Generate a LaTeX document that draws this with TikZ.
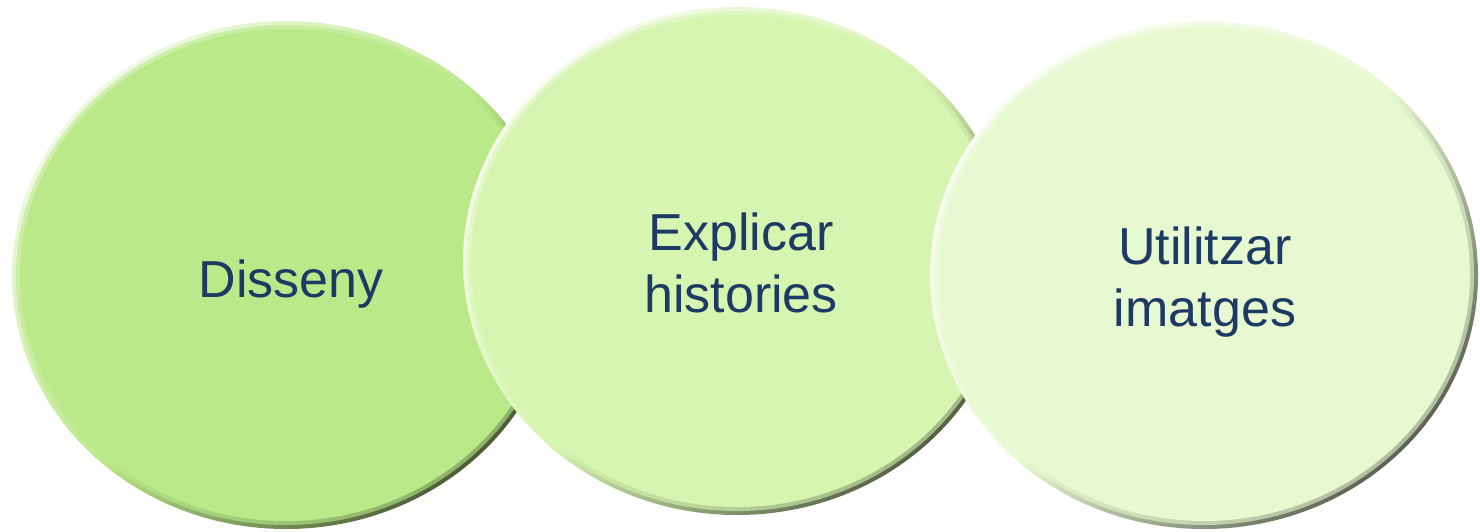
\documentclass[tikz,border=0pt]{standalone}
\usepackage{fontspec}
\setmainfont{Liberation Sans}
\usetikzlibrary{shapes.geometric}
\definecolor{txt}{HTML}{1C3A63}
\definecolor{gA}{HTML}{BBE98A}
\definecolor{gB}{HTML}{D6F5B0}
\definecolor{gC}{HTML}{E7F9D1}
\tikzset{
  bubble/.style={ellipse, minimum width=548pt, minimum height=508pt, inner sep=0pt,
    top color=#1!25!white, bottom color=#1!40!black, middle color=#1, shading angle=45,
    path picture={
      \fill[#1, opacity=0.6] (path picture bounding box.center) ellipse [x radius=270pt, y radius=250pt];
      \fill[#1] (path picture bounding box.center) ellipse [x radius=266pt, y radius=246pt];
    }},
  bubbletext/.style={font=\fontsize{52}{62}\selectfont, text=txt, align=center, inner sep=0pt}
}
\begin{document}
\begin{tikzpicture}[x=1pt, y=-1pt]
\fill[white] (0,0) rectangle (1480,532);
\useasboundingbox (0,0) rectangle (1480,532);
\node[bubble=gA] (e1) at (286,275) {};
\node[bubble=gB] (e2) at (737,261) {};
\node[bubble=gC] (e3) at (1204,275) {};
\node[bubbletext] (t1) at (291,284) {Disseny};
\node[bubbletext] (t2) at (741,263) {Explicar\\histories};
\node[bubbletext] (t3) at (1205,282) {Utilitzar\\imatges};
\end{tikzpicture}
\end{document}
